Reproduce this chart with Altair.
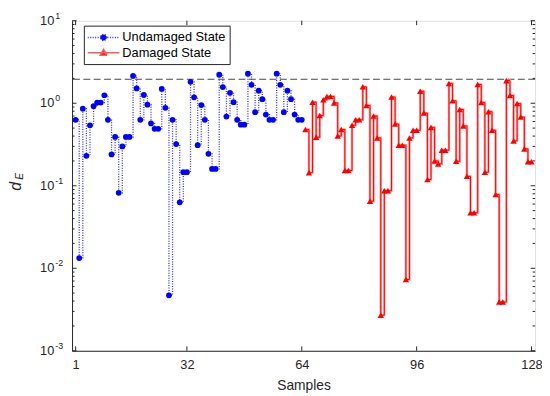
import altair as alt
import pandas as pd

# ---- data ----
undamaged = [0.63, 0.0133, 0.86, 0.231, 0.54, 0.92, 1.02, 1.02, 1.25, 0.63,
             0.24, 0.39, 0.082, 0.30, 0.39, 0.39, 2.14, 1.51, 0.63, 1.26,
             0.96, 0.57, 0.49, 0.49, 1.49, 0.88, 0.0047, 0.63, 0.32, 0.063,
             0.146, 0.146, 1.82, 1.18, 0.31, 0.95, 0.63, 0.244, 0.16, 0.16,
             2.22, 1.57, 0.69, 1.34, 1.03, 0.63, 0.55, 0.55, 2.28, 1.67,
             0.78, 1.42, 1.12, 0.73, 0.63, 0.63, 2.28, 1.67, 0.78, 1.42,
             1.12, 0.73, 0.63, 0.63]
damaged = [0.48, 0.144, 1.03, 0.387, 0.71, 1.10, 1.21, 1.21, 1.01, 0.40,
           0.48, 0.153, 0.153, 0.54, 0.63, 0.63, 1.58, 0.94, 0.065, 0.70,
           0.38, 0.0027, 0.087, 0.087, 1.19, 0.56, 0.31, 0.31, 0.0073, 0.38,
           0.47, 0.47, 1.40, 0.76, 0.119, 0.51, 0.20, 0.184, 0.27, 0.27,
           1.74, 1.07, 0.198, 0.84, 0.53, 0.13, 0.047, 0.047, 1.69, 1.02,
           0.146, 0.79, 0.47, 0.0785, 0.0039, 0.0039, 1.88, 1.24, 0.35, 0.99,
           0.68, 0.28, 0.196, 0.196]
undamaged_samples = list(range(1, 65))
damaged_samples = list(range(65, 129))
states = ["Undamaged State", "Damaged State"]
threshold = [1.95]

x_ticks = [1, 32, 64, 96, 128]
decades = [0.001, 0.01, 0.1, 1, 10]
exponents = ["-3", "-2", "-1", "0", "1"]
minor_y = [m * d for d in [0.001, 0.01, 0.1, 1] for m in [2, 3, 4, 5, 6, 7, 8, 9]]

W, H = 470, 335
AXC = "#262626"
FONT = "Liberation Sans"
BLUE_LINE = "#2a2aff"
RED_LINE = "#ff5a5a"

df_u = pd.DataFrame({"sample": undamaged_samples, "value": undamaged, "state": states[0]})
df_d = pd.DataFrame({"sample": damaged_samples, "value": damaged, "state": states[1]})
df_key = pd.DataFrame({"sample": [1, 65], "value": [undamaged[0], damaged[0]], "state": states})

xscale = alt.Scale(domain=[0, 129], nice=False, zero=False)
yscale = alt.Scale(type="log", domain=[0.001, 10], nice=False)
xaxis = alt.Axis(values=x_ticks, ticks=False, grid=False, labelFontSize=13, labelColor=AXC,
                 labelFont=FONT, title="Samples", titleFontSize=14, titleFontWeight="normal",
                 titleColor=AXC, titleFont=FONT, domainColor=AXC, labelPadding=8, titlePadding=7,
                 labelFlush=False)
yaxis = alt.Axis(labels=False, ticks=False, grid=False, title=None, domainColor=AXC)

X = lambda f: alt.X(f, type="quantitative", scale=xscale, axis=xaxis)
Y = lambda f: alt.Y(f, type="quantitative", scale=yscale, axis=yaxis)

# legend key glyphs: a line segment with the marker on it (unit coords, 7 px per unit)
path_u = "M-1.15,0L3.43,0M1.57,0A0.43,0.43,0,1,1,0.71,0A0.43,0.43,0,1,1,1.57,0Z"
path_d = "M-1.15,0L3.43,0M0.64,0.36L1.64,0.36L1.14,-0.5Z"

legend = alt.Legend(orient="none", legendX=12, legendY=5, padding=4, title=None,
                    strokeColor=AXC, fillColor="white", labelFontSize=13,
                    labelFont=FONT, labelColor="#000000", labelOffset=19,
                    rowPadding=0.6, symbolSize=196, symbolStrokeWidth=1.5,
                    symbolOpacity=1, cornerRadius=0)

thr = alt.Chart(pd.DataFrame({"t": threshold})).mark_rule(
    color="#4a4a4a", strokeDash=[7, 3.5], strokeWidth=1.1).encode(y=Y("t"))

line_u = alt.Chart(df_u).mark_line(interpolate="step-after", color=BLUE_LINE,
                                   strokeDash=[1, 1.5], strokeWidth=1.3).encode(
    x=X("sample"), y=Y("value"))
line_d_halo = alt.Chart(df_d).mark_line(interpolate="step-after", color="#ff9a9a",
                                        strokeWidth=2.4).encode(x=X("sample"), y=Y("value"))
line_d = alt.Chart(df_d).mark_line(interpolate="step-after", color="#ff0000",
                                   strokeWidth=1).encode(x=X("sample"), y=Y("value"))

pts_u = alt.Chart(df_u).mark_point(filled=True, opacity=1, strokeWidth=0, shape="circle",
                                   size=34, color="#0000ff").encode(x=X("sample"), y=Y("value"))
pts_d = alt.Chart(df_d).mark_point(filled=True, opacity=1, strokeWidth=0, shape="triangle-up",
                                   size=42, color="#ff0000").encode(x=X("sample"), y=Y("value"))

# invisible layer that only carries the legend
key = alt.Chart(df_key).mark_point(filled=True, opacity=0, size=196, strokeWidth=1.5).encode(
    x=X("sample"), y=Y("value"),
    color=alt.Color("state:N", scale=alt.Scale(domain=states, range=["#0000ff", "#ff0000"]),
                    legend=legend),
    stroke=alt.Stroke("state:N", scale=alt.Scale(domain=states, range=[BLUE_LINE, RED_LINE]),
                      legend=legend),
    strokeDash=alt.StrokeDash("state:N", scale=alt.Scale(domain=states, range=[[1, 1.5], [1, 0]]),
                              legend=legend),
    shape=alt.Shape("state:N", scale=alt.Scale(domain=states, range=[path_u, path_d]),
                    legend=legend),
)

df_xt = pd.DataFrame({"v": x_ticks})
xt_bot = alt.Chart(df_xt).mark_rule(color=AXC).encode(x=X("v"), y=alt.value(H), y2=alt.value(H - 4.5))
xt_top = alt.Chart(df_xt).mark_rule(color=AXC).encode(x=X("v"), y=alt.value(0), y2=alt.value(4.5))
df_dec = pd.DataFrame({"v": decades, "e": exponents})
df_min = pd.DataFrame({"v": minor_y})
yt_l = alt.Chart(df_dec).mark_rule(color=AXC).encode(y=Y("v"), x=alt.value(0), x2=alt.value(4.5))
yt_r = alt.Chart(df_dec).mark_rule(color=AXC).encode(y=Y("v"), x=alt.value(W), x2=alt.value(W - 4.5))
ym_l = alt.Chart(df_min).mark_rule(color=AXC).encode(y=Y("v"), x=alt.value(0), x2=alt.value(2.5))
ym_r = alt.Chart(df_min).mark_rule(color=AXC).encode(y=Y("v"), x=alt.value(W), x2=alt.value(W - 2.5))

lab10 = alt.Chart(df_dec).mark_text(align="right", baseline="middle", fontSize=13,
                                    color=AXC, font=FONT).encode(
    y=Y("v"), x=alt.value(-18), text=alt.value("10"))
labexp = alt.Chart(df_dec).mark_text(align="left", baseline="middle", fontSize=9,
                                     color=AXC, font=FONT, dy=-5).encode(
    y=Y("v"), x=alt.value(-17), text="e:N")

one = pd.DataFrame({"a": [0]})
ttl_d = alt.Chart(one).mark_text(angle=270, align="center", baseline="middle", fontSize=16,
                                 fontStyle="italic", color=AXC, font=FONT).encode(
    x=alt.value(-56.5), y=alt.value(168), text=alt.value("d"))
ttl_e = alt.Chart(one).mark_text(angle=270, align="center", baseline="middle", fontSize=10.5,
                                 fontStyle="italic", color=AXC, font=FONT).encode(
    x=alt.value(-53), y=alt.value(158), text=alt.value("E"))

chart = alt.layer(thr, line_u, line_d_halo, line_d, pts_u, pts_d, key, xt_bot, xt_top,
                  yt_l, yt_r, ym_l, ym_r, lab10, labexp, ttl_d, ttl_e).properties(
    width=W, height=H,
    padding={"left": 65, "top": 10, "right": 7, "bottom": 45},
    autosize=alt.AutoSizeParams(type="none"),
    background="white",
).configure_view(stroke=AXC, strokeWidth=1).configure(font=FONT)

chart.save("out.html", embed_options={"renderer": "svg", "actions": False})
